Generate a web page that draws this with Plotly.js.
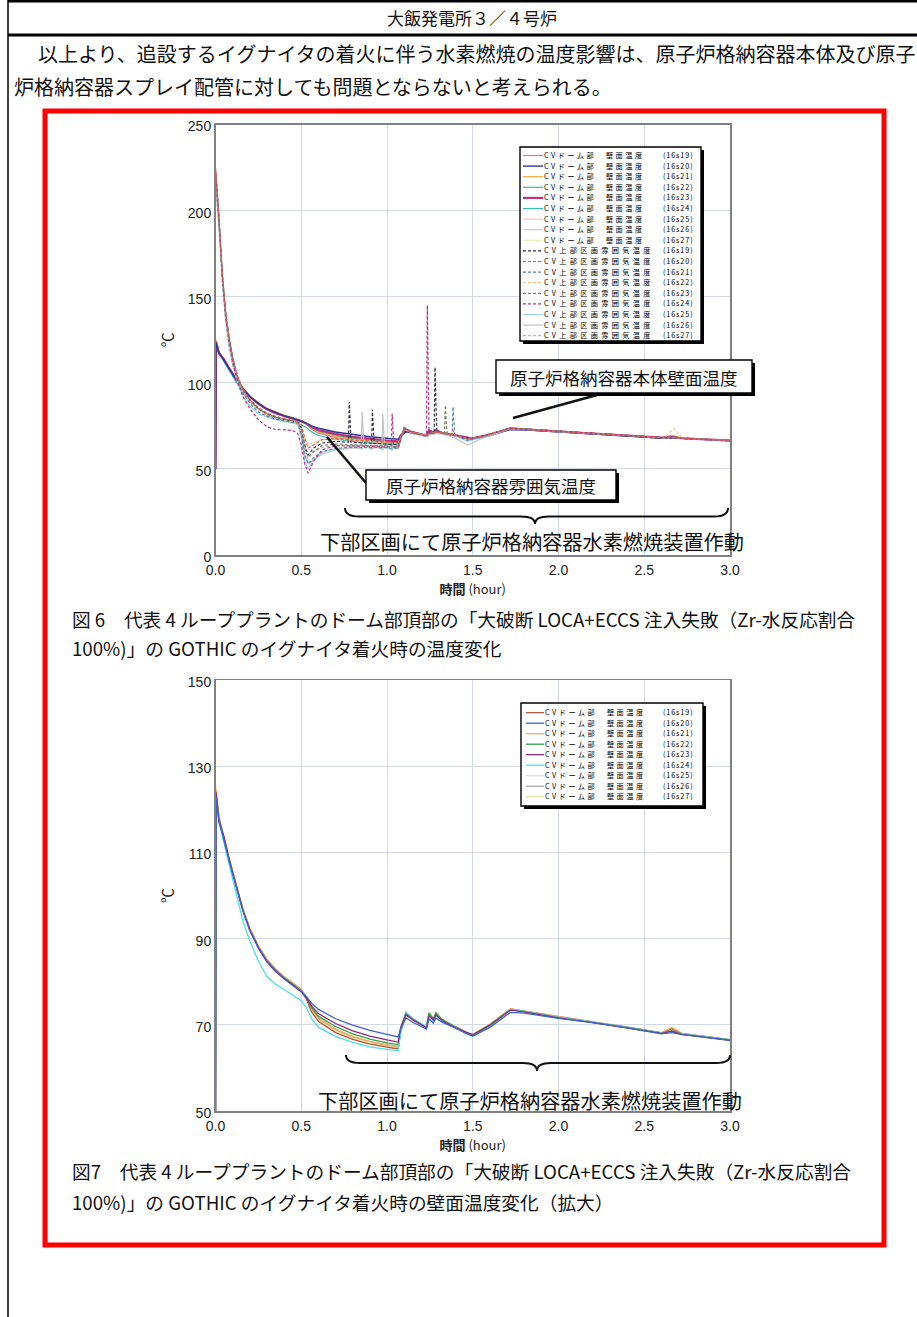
<!DOCTYPE html>
<html><head><meta charset="utf-8">
<script src="https://cdn.plot.ly/plotly-3.0.1.min.js"></script>
<style>html,body{margin:0;padding:0;background:#fff;} #chart{width:917px;height:1317px;}</style>
</head><body><div id="chart"></div>
<script>
// ---------------- DATA ----------------
const SERIES_IDS = ["(16s19)","(16s20)","(16s21)","(16s22)","(16s23)","(16s24)","(16s25)","(16s26)","(16s27)"];
const WALL_LABEL_A = "CVドーム部";
const WALL_LABEL_B = "壁面温度";
const ATM_LABEL = "CV上部区画雰囲気温度";

// time (hour) for wall temperature series
const TW = [0,0.003,0.02,0.05,0.08,0.1,0.13,0.16,0.2,0.25,0.3,0.35,0.4,0.45,0.5,0.53,0.56,0.6,0.7,0.8,0.9,1.0,1.065,1.08,1.11,1.15,1.2,1.23,1.245,1.27,1.285,1.32,1.4,1.46,1.5,1.6,1.72,1.8,2.0,2.2,2.4,2.6,2.66,2.72,3.0];
// CV dome wall temperature (deg C)
const wall16s19 = [50,124,118,113,108.5,105.5,100.8,96.8,92.3,88.2,85,82.8,81,79.6,78,76,73,70.8,68.2,66.6,65.5,64.8,64.4,68.5,72.3,71.2,70,69.3,72.4,71.2,72.4,71.1,69.4,68.2,67.7,70,73.6,73.1,71.7,70.6,69.4,68.1,69.1,67.9,66.5];
const wall16s20 = [50,123,117.5,112.5,108,105,100.5,96.5,92,88,84.8,82.6,80.8,79.4,77.8,76.6,75,73.6,71.4,69.9,68.7,67.8,67.2,69,71.6,70.6,69.6,69,71.4,70.4,71.6,70.6,69.2,68,67.4,69.4,72.9,72.7,71.5,70.5,69.3,67.9,68.2,67.7,66.4];
const wall16s21 = [50,124.5,118.2,113.2,108.8,105.8,101,97,92.5,88.4,85.2,83,81.2,79.8,78.2,76.4,73.8,71.6,69,67.3,66.1,65.3,64.9,68.8,72.5,71.3,70.1,69.4,72.6,71.3,72.6,71.2,69.5,68.3,67.8,70.1,73.7,73.2,71.8,70.6,69.4,68.1,69.4,68,66.5];
const wall16s22 = [50,123.5,117.8,112.8,108.3,105.3,100.6,96.6,92.1,88,84.8,82.6,80.9,79.5,77.9,76.2,74,72,69.6,67.9,66.7,65.8,65.4,69.2,72.8,71.4,70.2,69.5,72.8,71.4,72.8,71.3,69.5,68.3,67.7,70,73.5,73.1,71.7,70.6,69.4,68.1,68.6,67.9,66.5];
const wall16s23 = [50,124,117,113.6,108.2,105.2,100.4,96.4,91.9,87.8,84.6,82.4,80.7,79.3,77.7,76.3,74.4,72.6,70.3,68.6,67.4,66.5,66,69.4,72.4,71.2,70,69.3,72.2,71.1,72.3,71,69.3,68.2,67.6,69.9,73.4,73,71.6,70.5,69.3,68,68.5,67.8,66.4];
const wall16s24 = [50,123,117,112,107,103.8,98.5,94,89.5,84.8,81.2,79.4,78.2,77,75.6,74,71.5,69.4,67.3,65.9,64.9,64.3,64,68,73,71.5,70.2,69.4,72.2,71,72.2,70.9,69.3,68,67.3,69.6,73.5,73.1,71.7,70.6,69.4,68.1,68.4,67.9,66.5];
const wall16s25 = [50,123.8,117.6,112.6,108,105,100.2,96.2,91.7,87.6,84.4,82.2,80.5,79.1,77.5,75.8,73.4,71.3,68.8,67.1,66,65.2,64.8,68.6,72.6,71.3,70.1,69.4,72.5,71.2,72.5,71.1,69.4,68.2,67.6,69.9,73.6,73.1,71.7,70.6,69.4,68.1,68.8,67.9,66.5];
const wall16s26 = [50,124.2,118,112.9,108.4,105.4,100.7,96.7,92.2,88.1,84.9,82.7,81,79.6,78,76.1,73.6,71.4,68.9,67.2,66.1,65.4,65,68.7,72.7,71.4,70.2,69.5,72.6,71.3,72.6,71.2,69.5,68.3,67.7,70,73.7,73.2,71.8,70.7,69.5,68.2,69.2,68,66.6];
const wall16s27 = [50,125.5,118.4,113.3,108.7,105.7,100.9,96.9,92.4,88.3,85.1,82.9,81.1,79.7,78.1,76.2,73.3,71.1,68.5,66.9,65.8,65,64.6,68.4,72.5,71.3,70.1,69.4,72.5,71.2,72.5,71.1,69.4,68.2,67.6,70,73.6,73.1,71.7,70.6,69.4,68.1,69,67.9,66.5];

// time (hour) for upper-compartment atmosphere temperature series
const TA = [0,0.003,0.02,0.04,0.06,0.08,0.1,0.13,0.16,0.2,0.25,0.3,0.35,0.4,0.45,0.48,0.5,0.52,0.54,0.57,0.62,0.7,0.775,0.78,0.79,0.85,0.855,0.865,0.91,0.915,0.925,0.97,0.975,0.985,1.025,1.03,1.04,1.065,1.1,1.15,1.2,1.23,1.235,1.245,1.275,1.28,1.29,1.335,1.34,1.35,1.38,1.385,1.395,1.47,1.55,1.72,2.0,2.4,2.6,2.62,2.67,2.72,3.0];
const atm16s19 = [222,220,195,162,139,125,114,103,96,90,85,82,80,78.8,77.8,77, 74,64,58,62,65,66,65.5,89,65.5,65,65,65,64.8,84.5,64.8,64.6,64.6,64.6,64.4,64.4,64.4,64.3, 73.5,71,70,69.5,69.5,70.5,70.8,109,71.5,70.6,70.5,70.3,69.9,69.8,69.7,67.5,68.8,73.6,71.7,69.4,68.2,68.1,68,67.8,66.5];
const atm16s20 = [225,222,197,164,141,126,115,103.5,96.5,90.5,85.5,82.5,80.5,79.2,78.2,77.5, 76,68,62,64,67,67.5,67,67,67,66.3,66.3,66.3,66,66,66,65.6,65.6,65.6,65.3,65.3,65.3,65.2, 73,71.2,70.2,69.7,69.7,70.6,71,71.2,71.4,70.6,70.5,70.3,70.2,72.5,70,67.6,69,73.4,71.8,69.5,68.3,68.2,68.1,67.9,66.6];
const atm16s21 = [218,215,192,160,137,122,112,101,94,88,83,80.5,79,78,77,76.5, 70,58,53,56,60,62,62.5,62.5,62.5,62.5,62.5,62.5,62.5,62.5,62.5,62.3,62.3,62.3,62,62,62,62, 74,71,70,69.4,69.4,70.4,70.7,71.2,71.4,70.5,70.4,70.2,69.8,86,69.6,66.5,68.5,73.8,71.7,69.4,68.2,68.1,68,67.8,66.5];
const atm16s22 = [220,217,194,161,138,124,113,102.5,95.5,89.5,84.5,81.5,79.8,78.5,77.6,77, 75,68,64,65,67,67.5,66.8,66.8,66.8,66.2,66.2,66.2,65.8,65.8,65.8,65.4,65.4,65.4,65,65,65,64.9, 73,71,70,69.6,69.6,70.5,70.8,71.2,71.4,70.6,70.5,70.3,70,71.5,69.8,67.6,69,73.5,71.7,69.4,68.2,68.2,73.5,68,66.5];
const atm16s23 = [223,220,196,163,140,125.5,114.5,103,96,90,85,82,80,78.8,77.8,77, 73,62,57,60,63.5,64.5,64,64,64,63.8,63.8,63.8,63.6,63.6,63.6,63.4,63.4,63.4,63.2,63.2,63.2,63.2, 73.8,71,70,69.5,69.5,70.5,70.8,71.3,71.5,70.6,87,70.3,69.9,69.8,69.7,67.3,68.8,73.6,71.7,69.4,68.2,68.1,68,67.8,66.5];
const atm16s24 = [224,221,196,162,138,124,112,100,92,85,78.5,74.5,72.8,72.7,72.3,70.5, 64,53,47.5,54,61,63.5,63.5,63.5,63.5,63.3,63.3,63.3,63.1,63.1,63.1,62.9,62.9,62.9,62.7,82,62.7,62.7, 73.5,71,70,69.5,145,70.5,70.8,71.3,71.5,70.6,70.5,70.3,69.9,69.8,69.7,67.4,68.8,73.6,71.7,69.4,68.2,68.1,68,67.8,66.5];
const atm16s25 = [216,213,190,158,135,120,110,99.5,92.5,86.5,82,80,78.5,77.5,76.7,76, 68,55,50,55,59.5,61.5,61.8,61.8,64,61.5,61.5,63.5,61.3,61.3,63.3,61,61,63,60.8,60.8,62.5,61.5, 74.2,71,70,69.2,69.2,70.3,70.5,71,71.3,70.3,70.2,70,69.5,69.4,69.3,66,68.3,73.9,71.7,69.4,68.2,68.1,68,67.8,66.5];
const atm16s26 = [219,216,193,160,137,123,113,102,95,89,84.3,81.5,79.6,78.4,77.4,76.8, 70,58,53,55,58.5,61,62.2,62.2,62.2,62,83,64.5,61.8,61.8,64,61.5,82,63.8,61.2,61.2,63.5,62, 73,70.5,69.5,69,69,69.8,70.2,70.6,70.8,69.8,69.7,69.5,68.5,68.3,68,63.8,67.5,73.4,71.6,69.4,68.2,68.1,68,67.8,66.5];
const atm16s27 = [221,218,195,162,139,124.5,114,102.8,95.8,89.8,84.8,81.8,79.9,78.6,77.6,77, 72,60,56,59.5,62.5,63.5,63.5,63.5,63.5,63.2,63.2,63.2,63,63,63,62.8,62.8,62.8,62.6,62.6,62.6,62.6, 73.6,71,70,69.5,69.5,70.5,70.8,71.3,71.5,70.6,70.5,70.3,69.9,69.8,69.7,67,68.6,73.6,71.7,69.4,68.2,68.1,68,67.8,66.5];

const WALLS = [wall16s19,wall16s20,wall16s21,wall16s22,wall16s23,wall16s24,wall16s25,wall16s26,wall16s27];
const ATMS  = [atm16s19,atm16s20,atm16s21,atm16s22,atm16s23,atm16s24,atm16s25,atm16s26,atm16s27];

const X_TICKS = [0,0.5,1.0,1.5,2.0,2.5,3.0];
const X_TICK_TEXT = ["0.0","0.5","1.0","1.5","2.0","2.5","3.0"];
const Y1_TICKS = [0,50,100,150,200,250];
const Y2_TICKS = [50,70,90,110,130,150];

// ---------------- STYLE ----------------
const WALL_COL1 = ["#e07a84","#2b3a9a","#f2a93b","#4fb08a","#c2307e","#2fbfb8","#f2c6cf","#c9c9cf","#eeeab0"];
const WALL_W1   = [1.2,1.4,1.2,1.2,2.2,1.2,1.2,1.2,1.2];
const WALL_COL2 = ["#b5523b","#3d62d6","#f3ac55","#36a045","#8e2a78","#48e0e0","#dcdce2","#a9a9b3","#eee6a6"];
const ATM_COL   = ["#2e2e48","#e45a5a","#4f86ad","#f5c77a","#7f7f60","#b6348a","#9fd5ea","#c2c2c2","#b5b5b5"];
const ATM_DASH  = ["3px,2px","3px,2px","3px,2px","3px,2px","3px,2px","3px,2px","solid","solid","3px,2px"];

const W = 917, H = 1317;
const X = p => p / W;
const Y = p => 1 - p / H;
const JP = "Noto Sans CJK JP";
const TICKFONT = "Liberation Sans";

// ---------------- TRACES ----------------
const traces = [];
const order = [6,7,8,0,2,3,5,4,1];
order.forEach(i => traces.push({x: TW, y: WALLS[i], xaxis:'x', yaxis:'y', mode:'lines',
  name: WALL_LABEL_A + " " + WALL_LABEL_B + " " + SERIES_IDS[i],
  line:{color: WALL_COL1[i], width: WALL_W1[i]}, showlegend:false}));
order.forEach(i => traces.push({x: TA, y: ATMS[i], xaxis:'x', yaxis:'y', mode:'lines',
  name: ATM_LABEL + " " + SERIES_IDS[i],
  line:{color: ATM_COL[i], width: 1.2, dash: ATM_DASH[i]}, showlegend:false}));
order.forEach(i => traces.push({x: TW, y: WALLS[i], xaxis:'x2', yaxis:'y2', mode:'lines',
  name: WALL_LABEL_A + " " + WALL_LABEL_B + " " + SERIES_IDS[i],
  line:{color: WALL_COL2[i], width: 1.3}, showlegend:false}));

// ---------------- DECORATION ----------------
const shapes = [];
const ann = [];
function line(x0,y0,x1,y1,color,width,dash){
  shapes.push({type:'line',xref:'paper',yref:'paper',x0:X(x0),y0:Y(y0),x1:X(x1),y1:Y(y1),
    line:{color:color,width:width,dash:dash||'solid'},layer:'above'});
}
function rect(l,t,r,b,fill,lc,lw){
  shapes.push({type:'rect',xref:'paper',yref:'paper',x0:X(l),y0:Y(b),x1:X(r),y1:Y(t),
    fillcolor:fill,line:{color:lc,width:lw},layer:'above'});
}
function text(t,x,y,size,anchor,extra){
  ann.push(Object.assign({text:t,xref:'paper',yref:'paper',x:X(x),y:Y(y),showarrow:false,
    xanchor:anchor||'left',yanchor:'middle',font:{family:JP,size:size,color:'#111'}},extra||{}));
}
// multi-line legend column: line pitch = base*1.3; glyphs drawn small and letter-spaced
function column(lines,spacings,x,firstY,pitch,glyph){
  const base = pitch/1.3;
  const t = lines.map((s,k) => '<span style="font-size:'+glyph+'px;letter-spacing:'+spacings[k]+'px">'+s+'</span>').join('<br>');
  ann.push({text:t,xref:'paper',yref:'paper',x:X(x),y:Y(firstY - pitch/2 - 0.5),showarrow:false,
    xanchor:'left',yanchor:'top',align:'left',borderpad:0,borderwidth:0,
    font:{family:JP,size:base,color:'#000'}});
}
function shadowBox(l,t,r,b,s){
  rect(l+s,t+s,r+s,b+s,'#000','#000',0);
  rect(l,t,r,b,'#fff','#000',1.4);
}
function brace(l,r,c,yEnd,yMid,yTip){
  const k=14;
  const p = (x,y)=> X(x).toFixed(5)+','+Y(y).toFixed(5);
  const path = 'M'+p(l,yEnd)+' Q'+p(l,yMid)+' '+p(l+k,yMid)+' L'+p(c-k,yMid)+' Q'+p(c,yMid)+' '+p(c,yTip)+
    ' Q'+p(c,yMid)+' '+p(c+k,yMid)+' L'+p(r-k,yMid)+' Q'+p(r,yMid)+' '+p(r,yEnd);
  shapes.push({type:'path',xref:'paper',yref:'paper',path:path,line:{color:'#111',width:2},layer:'above'});
}

// page frame
line(8,1.2,917,1.2,'#000',2.5);
line(8,35,917,35,'#000',3);
line(8,0,8,1317,'#000',1.5);
text("大飯発電所３／４号炉",472,18,17,'center');
text("以上より、追設するイグナイタの着火に伴う水素燃焼の温度影響は、原子炉格納容器本体及び原子",36,54,20);
text("炉格納容器スプレイ配管に対しても問題とならないと考えられる。",12,86,20);
// red box
rect(45,111,884,1245,'rgba(0,0,0,0)','#ff0000',5);

const GLYPH = 7.2;
// legend 1 (18 rows)
const L1_PITCH = 10.6, L1_TOP = 155.5;
shadowBox(520,147,701,341,3);
const l1Labels = [], l1Sp = [], l1Ids = [], l1IdSp = [];
for(let k=0;k<18;k++){
  const yy = L1_TOP + k*L1_PITCH;
  const i = k%9;
  if(k<9){
    line(523,yy,543,yy,WALL_COL1[i],WALL_W1[i]);
    l1Labels.push(WALL_LABEL_A+'　'+WALL_LABEL_B); l1Sp.push(2.5);
  } else {
    line(523,yy,543,yy,ATM_COL[i],1.2,ATM_DASH[i]);
    l1Labels.push(ATM_LABEL); l1Sp.push(3.3);
  }
  l1Ids.push(SERIES_IDS[i]); l1IdSp.push(0.9);
}
column(l1Labels,l1Sp,544,L1_TOP,L1_PITCH,GLYPH);
column(l1Ids,l1IdSp,663,L1_TOP,L1_PITCH,GLYPH);

// legend 2 (9 rows)
const L2_PITCH = 10.5, L2_TOP = 712.7;
shadowBox(521,703,703,806,3);
const l2Labels = [], l2Sp = [], l2Ids = [], l2IdSp = [];
for(let i=0;i<9;i++){
  const yy = L2_TOP + i*L2_PITCH;
  line(526,yy,544,yy,WALL_COL2[i],1.3);
  l2Labels.push(WALL_LABEL_A+'　'+WALL_LABEL_B); l2Sp.push(2.5);
  l2Ids.push(SERIES_IDS[i]); l2IdSp.push(0.9);
}
column(l2Labels,l2Sp,545,L2_TOP,L2_PITCH,GLYPH);
column(l2Ids,l2IdSp,663,L2_TOP,L2_PITCH,GLYPH);

// callout boxes chart 1
shadowBox(496,360,752,393,3);
text("原子炉格納容器本体壁面温度",624,377,17.5,'center');
line(513,418,597,395,'#111',2.5);
shadowBox(366,470,616,500,3);
text("原子炉格納容器雰囲気温度",491,485,17.5,'center');
line(327,437,366,483,'#111',2.5);

// braces and labels
brace(345,728,535,508,516.5,524);
text("下部区画にて原子炉格納容器水素燃焼装置作動",318,541,20.2);
brace(346,730,537,1055,1063,1071);
text("下部区画にて原子炉格納容器水素燃焼装置作動",316,1100,20.2);

// captions
text("図 6　代表 4 ループプラントのドーム部頂部の「大破断 LOCA+ECCS 注入失敗（Zr-水反応割合",70,618,18.7);
text("100%)」の GOTHIC のイグナイタ着火時の温度変化",70,647,18.7);
text("図7　代表 4 ループプラントのドーム部頂部の「大破断 LOCA+ECCS 注入失敗（Zr-水反応割合",70,1170,18.7);
text("100%)」の GOTHIC のイグナイタ着火時の壁面温度変化（拡大）",70,1201,18.7);

// ---------------- AXES ----------------
function xax(anchor, dom){
  return {domain:dom, anchor:anchor, range:[0,3], tickvals:X_TICKS, ticktext:X_TICK_TEXT,
    showgrid:true, gridcolor:'#d4d9e6', gridwidth:1, zeroline:false,
    showline:true, mirror:true, linecolor:'#808080', linewidth:1.5, ticks:'',
    ticklabelstandoff:2,
    tickfont:{family:TICKFONT,size:14,color:'#222'},
    title:{text:'<b>時間</b> (hour)', font:{family:JP,size:13,color:'#222'}, standoff:7}};
}
function yax(anchor, dom, rng, tv){
  return {domain:dom, anchor:anchor, range:rng, tickvals:tv,
    showgrid:true, gridcolor:'#d4d9e6', gridwidth:1, zeroline:false,
    showline:true, mirror:true, linecolor:'#808080', linewidth:1.5, ticks:'',
    ticklabelshift:2,
    tickfont:{family:TICKFONT,size:14,color:'#222'},
    title:{text:'℃', font:{family:JP,size:15,color:'#222'}, standoff:10}};
}
const xd = [X(215.5), X(730)];
const layout = {
  width:W, height:H, margin:{l:0,r:0,t:0,b:0},
  paper_bgcolor:'#fff', plot_bgcolor:'#fff', showlegend:false,
  xaxis: xax('y', xd),
  yaxis: yax('x', [Y(555), Y(124.5)], [0,250], Y1_TICKS),
  xaxis2: xax('y2', xd),
  yaxis2: yax('x2', [Y(1111), Y(680)], [50,150], Y2_TICKS),
  shapes: shapes, annotations: ann
};
Plotly.newPlot('chart', traces, layout, {staticPlot:true});
</script></body></html>
